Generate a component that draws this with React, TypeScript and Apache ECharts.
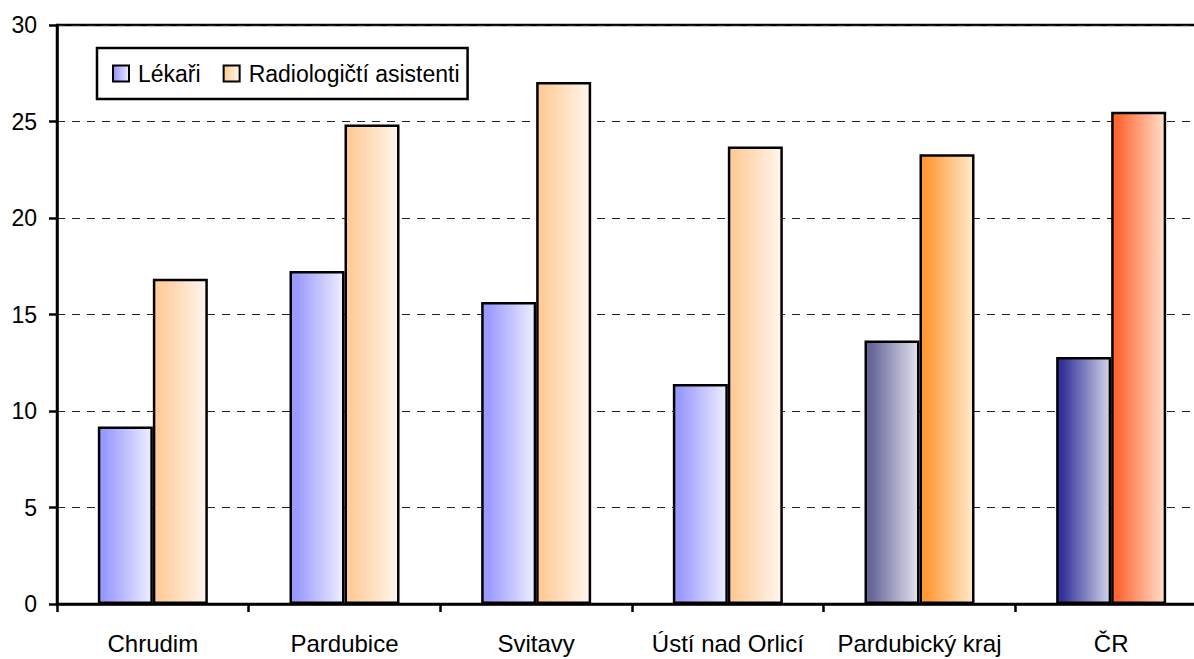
import React, { useEffect, useRef } from "react";
import * as echarts from "echarts";

const categories = ["Chrudim", "Pardubice", "Svitavy", "Ústí nad Orlicí", "Pardubický kraj", "ČR"];
const lekari = [9.2, 17.25, 15.65, 11.4, 13.65, 12.8];
const radiologove = [16.85, 24.85, 27.05, 23.7, 23.3, 25.5];
const seriesNames = ["Lékaři", "Radiologičtí asistenti"];
const yTicks = { min: 0, max: 30, interval: 5 };

// gradient colour pairs (left -> right) per category index
const blueColors: [string, string][] = [
  ["#9999FF", "#EEEEFF"],
  ["#9999FF", "#EEEEFF"],
  ["#9999FF", "#EEEEFF"],
  ["#9999FF", "#EEEEFF"],
  ["#666699", "#E2E2EE"],
  ["#333399", "#D4D4EA"],
];
const orangeColors: [string, string][] = [
  ["#FFCC99", "#FFF6EE"],
  ["#FFCC99", "#FFF6EE"],
  ["#FFCC99", "#FFF6EE"],
  ["#FFCC99", "#FFF6EE"],
  ["#FF9933", "#FFEBCC"],
  ["#FF6633", "#FFE2CC"],
];

const FONT = "'Liberation Sans', Arial, sans-serif";

export default function App() {
  const ref = useRef<HTMLDivElement>(null);
  useEffect(() => {
    if (!ref.current) return;
    const chart = echarts.init(ref.current, undefined, { renderer: "svg" });
    const mkGrad = (c: [string, string]) =>
      new echarts.graphic.LinearGradient(0, 0, 1, 0, [
        { offset: 0, color: c[0] },
        { offset: 0.1, color: c[0] },
        { offset: 1, color: c[1] },
      ]);
    chart.setOption({
      animation: false,
      backgroundColor: "#ffffff",
      textStyle: { fontFamily: FONT },
      grid: {
        left: 57,
        top: 25,
        width: 1150,
        height: 579,
        show: true,
        borderColor: "#000",
        borderWidth: 2.5,
        backgroundColor: "transparent",
      },
      legend: {
        left: 97,
        top: 48,
        orient: "horizontal",
        backgroundColor: "#fff",
        borderColor: "#000",
        borderWidth: 2.5,
        borderRadius: 0,
        padding: [14, 8, 14, 15],
        itemWidth: 16,
        itemHeight: 16,
        itemGap: 22,
        icon: "rect",
        textStyle: { fontSize: 23, color: "#000", fontFamily: FONT, padding: [0, 0, 0, 4] },
        data: seriesNames,
      },
      xAxis: {
        type: "category",
        data: categories,
        boundaryGap: true,
        axisLine: { show: true, lineStyle: { color: "#000", width: 2.5 } },
        axisTick: { show: true, length: 8, lineStyle: { color: "#000", width: 2.5 } },
        axisLabel: { color: "#000", fontSize: 24, margin: 27, fontFamily: FONT, interval: 0 },
        splitLine: { show: false },
      },
      yAxis: {
        type: "value",
        min: yTicks.min,
        max: yTicks.max,
        interval: yTicks.interval,
        axisLine: { show: true, lineStyle: { color: "#000", width: 2.5 } },
        axisTick: { show: true, length: 8, lineStyle: { color: "#000", width: 2.5 } },
        axisLabel: { color: "#000", fontSize: 23, margin: 20, fontFamily: FONT },
        splitLine: { show: true, lineStyle: { color: "#222", width: 1.2, type: [8, 7] } },
      },
      series: [
        {
          name: seriesNames[0],
          type: "bar",
          barWidth: 55,
          barGap: "0%",
          itemStyle: { color: mkGrad(blueColors[0]), borderColor: "#000", borderWidth: 2.5 },
          data: lekari.map((v, i) => ({
            value: v,
            itemStyle: { color: mkGrad(blueColors[i]), borderColor: "#000", borderWidth: 2.5 },
          })),
        },
        {
          name: seriesNames[1],
          type: "bar",
          barWidth: 55,
          barGap: "0%",
          itemStyle: { color: mkGrad(orangeColors[0]), borderColor: "#000", borderWidth: 2.5 },
          data: radiologove.map((v, i) => ({
            value: v,
            itemStyle: { color: mkGrad(orangeColors[i]), borderColor: "#000", borderWidth: 2.5 },
          })),
        },
      ],
    });
    return () => chart.dispose();
  }, []);
  return (
    <div style={{ position: "fixed", left: 0, top: 0, width: 1194, height: 659, overflow: "hidden", background: "#fff" }}>
      <div ref={ref} style={{ width: 1230, height: 659 }} />
    </div>
  );
}
